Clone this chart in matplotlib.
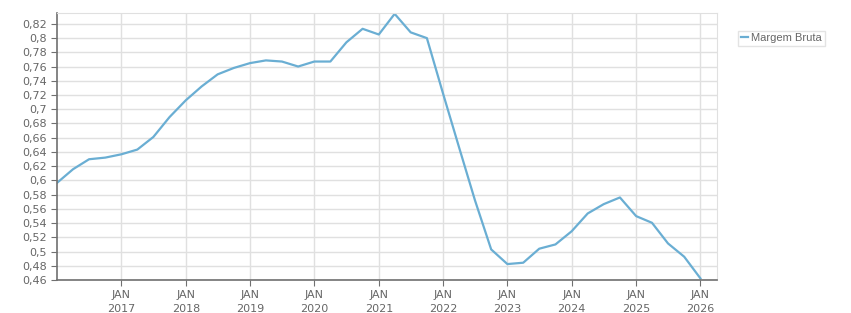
import numpy as np
import pandas as pd
import matplotlib
matplotlib.use("Agg")
import matplotlib.pyplot as plt
import matplotlib.dates as mdates
from matplotlib.ticker import FuncFormatter, MultipleLocator

# ── data (quarterly) ─────────────────────────────────────────────────────────
dates = pd.date_range("2016-01-01", "2026-01-01", freq="QS")
margem_bruta = [
    0.5965, 0.6157, 0.6297, 0.6320,          # 2016
    0.6367, 0.6433, 0.6610, 0.6890,          # 2017
    0.7125, 0.7320, 0.7490, 0.7580,          # 2018
    0.7648, 0.7686, 0.7670, 0.7600,          # 2019
    0.7670, 0.7670, 0.7940, 0.8130,          # 2020
    0.8050, 0.8340, 0.8080, 0.7999,          # 2021
    0.7218, 0.6470, 0.5720, 0.5030,          # 2022
    0.4824, 0.4843, 0.5040, 0.5100,          # 2023
    0.5285, 0.5535, 0.5666, 0.5760,          # 2024
    0.5498, 0.5404, 0.5114, 0.4927,          # 2025
    0.4623,                                  # 2026
]
series_name = "Margem Bruta"
line_color = "#6aaed3"

# ── figure ───────────────────────────────────────────────────────────────────
fig = plt.figure(figsize=(8.51, 3.13), dpi=100)
ax = fig.add_axes([0.067, 0.1054, 0.7755, 0.8526])

ax.plot(dates, margem_bruta, color=line_color, linewidth=1.6,
        solid_joinstyle="round", label=series_name)

ax.set_xlim(pd.Timestamp("2016-01-01"), pd.Timestamp("2026-04-05"))
ax.set_ylim(0.46, 0.835)

ax.yaxis.set_major_locator(MultipleLocator(0.02))
ax.yaxis.set_major_formatter(
    FuncFormatter(lambda v, p: f"{v:.2f}".rstrip("0").rstrip(".").replace(".", ",")))
ax.xaxis.set_major_locator(mdates.YearLocator())
ax.xaxis.set_major_formatter(FuncFormatter(
    lambda v, p: "JAN\n" + mdates.num2date(v).strftime("%Y")))
ax.set_xticks([t for t in ax.get_xticks()
               if mdates.num2date(t).year >= 2017])

ax.grid(True, color="#e0e0e0", linewidth=1)
ax.set_axisbelow(True)
for s in ["top", "right"]:
    ax.spines[s].set_color("#e0e0e0")
for s in ["left", "bottom"]:
    ax.spines[s].set_color("#707070")
    ax.spines[s].set_linewidth(1.2)

ax.tick_params(axis="both", colors="#707070", labelcolor="#666666",
               labelsize=8, length=4)
ax.tick_params(axis="x", pad=3)
for lbl in ax.get_xticklabels():
    lbl.set_linespacing(1.5)

leg = fig.legend(loc="upper left", bbox_to_anchor=(0.861, 0.92),
                 prop={"family": "Liberation Sans", "size": 8},
                 frameon=True, fancybox=False,
                 handlelength=0.6, handletextpad=0.3, borderpad=0.25,
                 labelcolor="#666666")
leg.get_frame().set_edgecolor("#dddddd")
leg.get_frame().set_linewidth(1)

plt.savefig("out.png", dpi=100)
